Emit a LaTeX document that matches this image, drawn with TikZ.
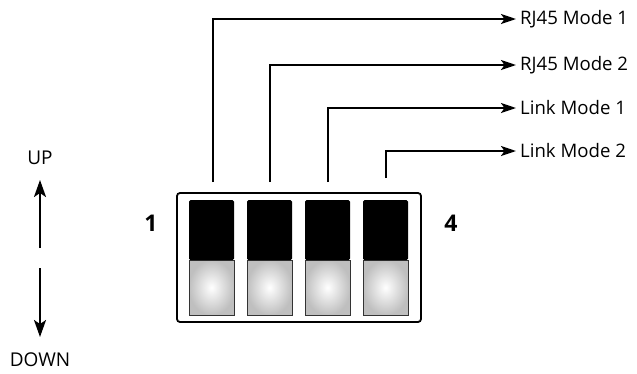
\documentclass[tikz,border=0pt]{standalone}
\usepackage{fontspec}
\setmainfont{Open Sans}
\usetikzlibrary{arrows.meta}
\begin{document}
\begin{tikzpicture}[x=1pt,y=-1pt,
  wire/.style={line width=2.2pt,-{Stealth[length=15pt,width=10pt,inset=3.5pt]}},
  updown/.style={line width=2.2pt,-{Stealth[length=17pt,width=12pt,inset=4pt]}},
  lbl/.style={anchor=west,inner sep=0pt,font=\fontsize{18.6}{22}\selectfont},
  num/.style={inner sep=0pt,font=\fontsize{23}{28}\selectfont\bfseries},
  dir/.style={inner sep=0pt,font=\fontsize{19}{22}\selectfont},
  knob/.style={fill=black,rounded corners=1.5pt},
  base/.style={draw=black!80,line width=0.6pt,inner color=white,outer color=black!25}]
\useasboundingbox (0,0) rectangle (637,373);
% housing
\draw[line width=1.8pt,rounded corners=3pt] (177,193) rectangle (421,322);
% switches
\foreach \i/\x in {1/189,2/247,3/305,4/363}{
  \shade[base] (\x,260) rectangle ++(45,55);
  \fill[knob] (\x,260) -- (\x,200) -- ++(45,0) -- ++(0,60) -- cycle;
  \coordinate (s\i) at (\x+22.5,200);
}
\coordinate (t1) at (213,182);
\coordinate (t2) at (270,182);
\coordinate (t3) at (328,182);
\coordinate (t4) at (386,178);
\node[lbl] (l1) at (520,19) {RJ45 Mode 1};
\node[lbl] (l2) at (520,65) {RJ45 Mode 2};
\node[lbl] (l3) at (520,108) {Link Mode 1};
\node[lbl] (l4) at (520,151) {Link Mode 2};
\foreach \i in {1,2,3,4}{
  \draw[wire,shorten >=4pt] (t\i) |- (l\i.west);
}
\node[num] (n1) at (151,223) {1};
\node[num] (n4) at (451,223) {4};
\node[dir] (up) at (40,158) {UP};
\node[dir] (down) at (40,360) {DOWN};
\coordinate (ua) at (40,248);
\coordinate (da) at (40,268);
\draw[updown] (ua) -- (40,180);
\draw[updown] (da) -- (40,337);
\end{tikzpicture}
\end{document}
